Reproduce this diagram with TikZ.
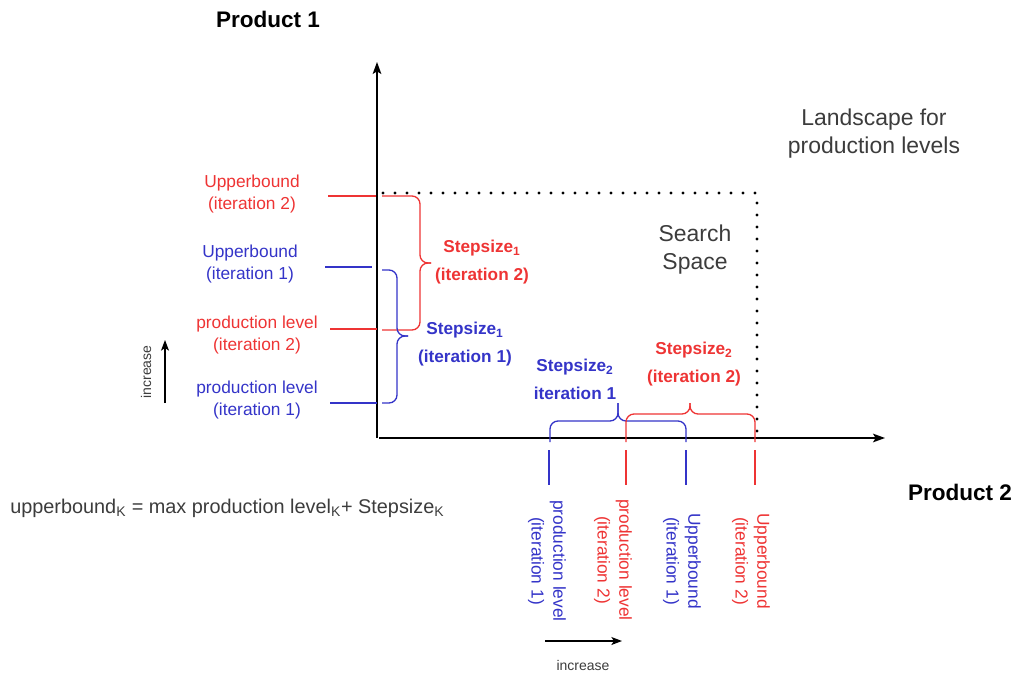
\documentclass[tikz,border=0pt]{standalone}
\usepackage{fontspec}
\setmainfont{Liberation Sans}
\usetikzlibrary{arrows.meta}
\definecolor{rd}{RGB}{238,52,52}
\definecolor{bl}{RGB}{52,52,200}
\definecolor{tx}{RGB}{60,60,60}
\begin{document}
\begin{tikzpicture}[x=0.75pt,y=-0.75pt,
  lbl/.style={align=center,font=\fontsize{13}{16.3}\selectfont,inner sep=0pt},
  stp/.style={align=center,font=\bfseries\fontsize{12.9}{21}\selectfont,inner sep=0pt},
  big/.style={align=center,font=\fontsize{17.2}{21}\selectfont,text=tx,inner sep=0pt},
  ttl/.style={font=\bfseries\fontsize{16.9}{20}\selectfont,inner sep=0pt},
  axis/.style={line width=1pt,-{Stealth[length=9pt,width=6.5pt,inset=2pt]}},
  incarrow/.style={line width=0.9pt,-{Stealth[length=8pt,width=6pt,inset=2pt]}},
  rline/.style={draw=rd,line width=1pt},
  bline/.style={draw=bl,line width=1pt},
  rbrace/.style={draw=rd,line width=1pt,rounded corners=6pt},
  bbrace/.style={draw=bl,line width=1pt,rounded corners=6pt},
  dots/.style={line width=2.4pt,line cap=round,dash pattern=on 0pt off 9pt}]
\useasboundingbox (0,0) rectangle (1022,675);

% axes
\coordinate (O) at (377,438);
\coordinate (Ytip) at (377,62);
\coordinate (Xstart) at (379,438);
\coordinate (Xtip) at (885,438);
\draw[axis] (O) -- (Ytip);
\draw[axis] (Xstart) -- (Xtip);

% titles
\node[ttl] (p1) at (268,19) {Product 1};
\node[ttl] (p2) at (960,492) {Product 2};
\node[big] (land) at (874,134) {Landscape for\\production levels};
\node[big] (ss) at (695,250) {Search\\Space};

% search space dotted border
\coordinate (d1) at (383,193);
\coordinate (d2) at (757,193);
\coordinate (d3) at (757,440);
\draw[dots] (d1) -- (d2) -- (d3);

% left labels
\node[lbl,text=rd] (ub2) at (252,194) {Upperbound\\(iteration 2)};
\node[lbl,text=bl] (ub1) at (250,264) {Upperbound\\(iteration 1)};
\node[lbl,text=rd] (pl2) at (257,335) {production level\\(iteration 2)};
\node[lbl,text=bl] (pl1) at (257,400) {production level\\(iteration 1)};

% left ticks
\coordinate (tub2a) at (328,196); \coordinate (tub2b) at (376,196);
\coordinate (tub1a) at (325,267); \coordinate (tub1b) at (372,267);
\coordinate (tpl2a) at (330,329); \coordinate (tpl2b) at (377,329);
\coordinate (tpl1a) at (330,403); \coordinate (tpl1b) at (377,403);
\draw[rline] (tub2a) -- (tub2b);
\draw[bline] (tub1a) -- (tub1b);
\draw[rline] (tpl2a) -- (tpl2b);
\draw[bline] (tpl1a) -- (tpl1b);

% vertical braces
\coordinate (rb1) at (382,196); \coordinate (rb2) at (382,330);
\coordinate (rbc) at (420,263); \coordinate (rbt) at (431,263);
\draw[rbrace] (rb1) -| (rbc) -- (rbt);
\draw[rbrace] (rb2) -| (rbc) -- (rbt);
\coordinate (bb1) at (382,270); \coordinate (bb2) at (382,403);
\coordinate (bbc) at (397,336); \coordinate (bbt) at (408,336);
\draw[bbrace] (bb1) -| (bbc) -- (bbt);
\draw[bbrace] (bb2) -| (bbc) -- (bbt);

% stepsize labels
\node[stp,text=rd] (s1i2) at (482,262) {Stepsize\textsubscript{1}\\(iteration 2)};
\node[stp,text=bl] (s1i1) at (465,344) {Stepsize\textsubscript{1}\\(iteration 1)};
\node[stp,text=bl] (s2i1) at (575,379) {Stepsize\textsubscript{2}\\iteration 1};
\node[stp,text=rd] (s2i2) at (694,364) {Stepsize\textsubscript{2}\\(iteration 2)};

% horizontal braces
\coordinate (hb1) at (550,442); \coordinate (hb2) at (686,442);
\coordinate (hbc) at (618,421); \coordinate (hbt) at (618,403);
\draw[bbrace] (hb1) |- (hbc) -- (hbt);
\draw[bbrace] (hb2) |- (hbc) -- (hbt);
\coordinate (hr1) at (626,442); \coordinate (hr2) at (755,442);
\coordinate (hrc) at (690,414); \coordinate (hrt) at (690,403);
\draw[rbrace] (hr1) |- (hrc) -- (hrt);
\draw[rbrace] (hr2) |- (hrc) -- (hrt);

% bottom ticks
\coordinate (bt1a) at (549,450); \coordinate (bt1b) at (549,485);
\coordinate (bt2a) at (626,450); \coordinate (bt2b) at (626,485);
\coordinate (bt3a) at (686,450); \coordinate (bt3b) at (686,485);
\coordinate (bt4a) at (755,450); \coordinate (bt4b) at (755,485);
\draw[bline] (bt1a) -- (bt1b);
\draw[rline] (bt2a) -- (bt2b);
\draw[bline] (bt3a) -- (bt3b);
\draw[rline] (bt4a) -- (bt4b);

% bottom rotated labels
\node[lbl,text=bl,rotate=-90] (bpl1) at (547,561) {production level\\(iteration 1)};
\node[lbl,text=rd,rotate=-90] (bpl2) at (613,560) {production level\\(iteration 2)};
\node[lbl,text=bl,rotate=-90] (bub1) at (682,561) {Upperbound\\(iteration 1)};
\node[lbl,text=rd,rotate=-90] (bub2) at (751,561) {Upperbound\\(iteration 2)};

% increase arrows
\node[font=\fontsize{10.5}{12}\selectfont,text=tx,rotate=90,inner sep=0pt] (incl) at (146,372) {increase};
\coordinate (il1) at (165,403); \coordinate (il2) at (165,340);
\draw[incarrow] (il1) -- (il2);
\node[font=\fontsize{10.5}{12}\selectfont,text=tx,inner sep=0pt] (incb) at (583,665) {increase};
\coordinate (ib1) at (545,641); \coordinate (ib2) at (622,641);
\draw[incarrow] (ib1) -- (ib2);

% formula
\node[font=\fontsize{14.9}{17}\selectfont,text=tx,anchor=west,inner sep=0pt] (form) at (10,508)
  {upperbound\textsubscript{K} = max production level\textsubscript{K}+ Stepsize\textsubscript{K}};
\end{tikzpicture}
\end{document}
